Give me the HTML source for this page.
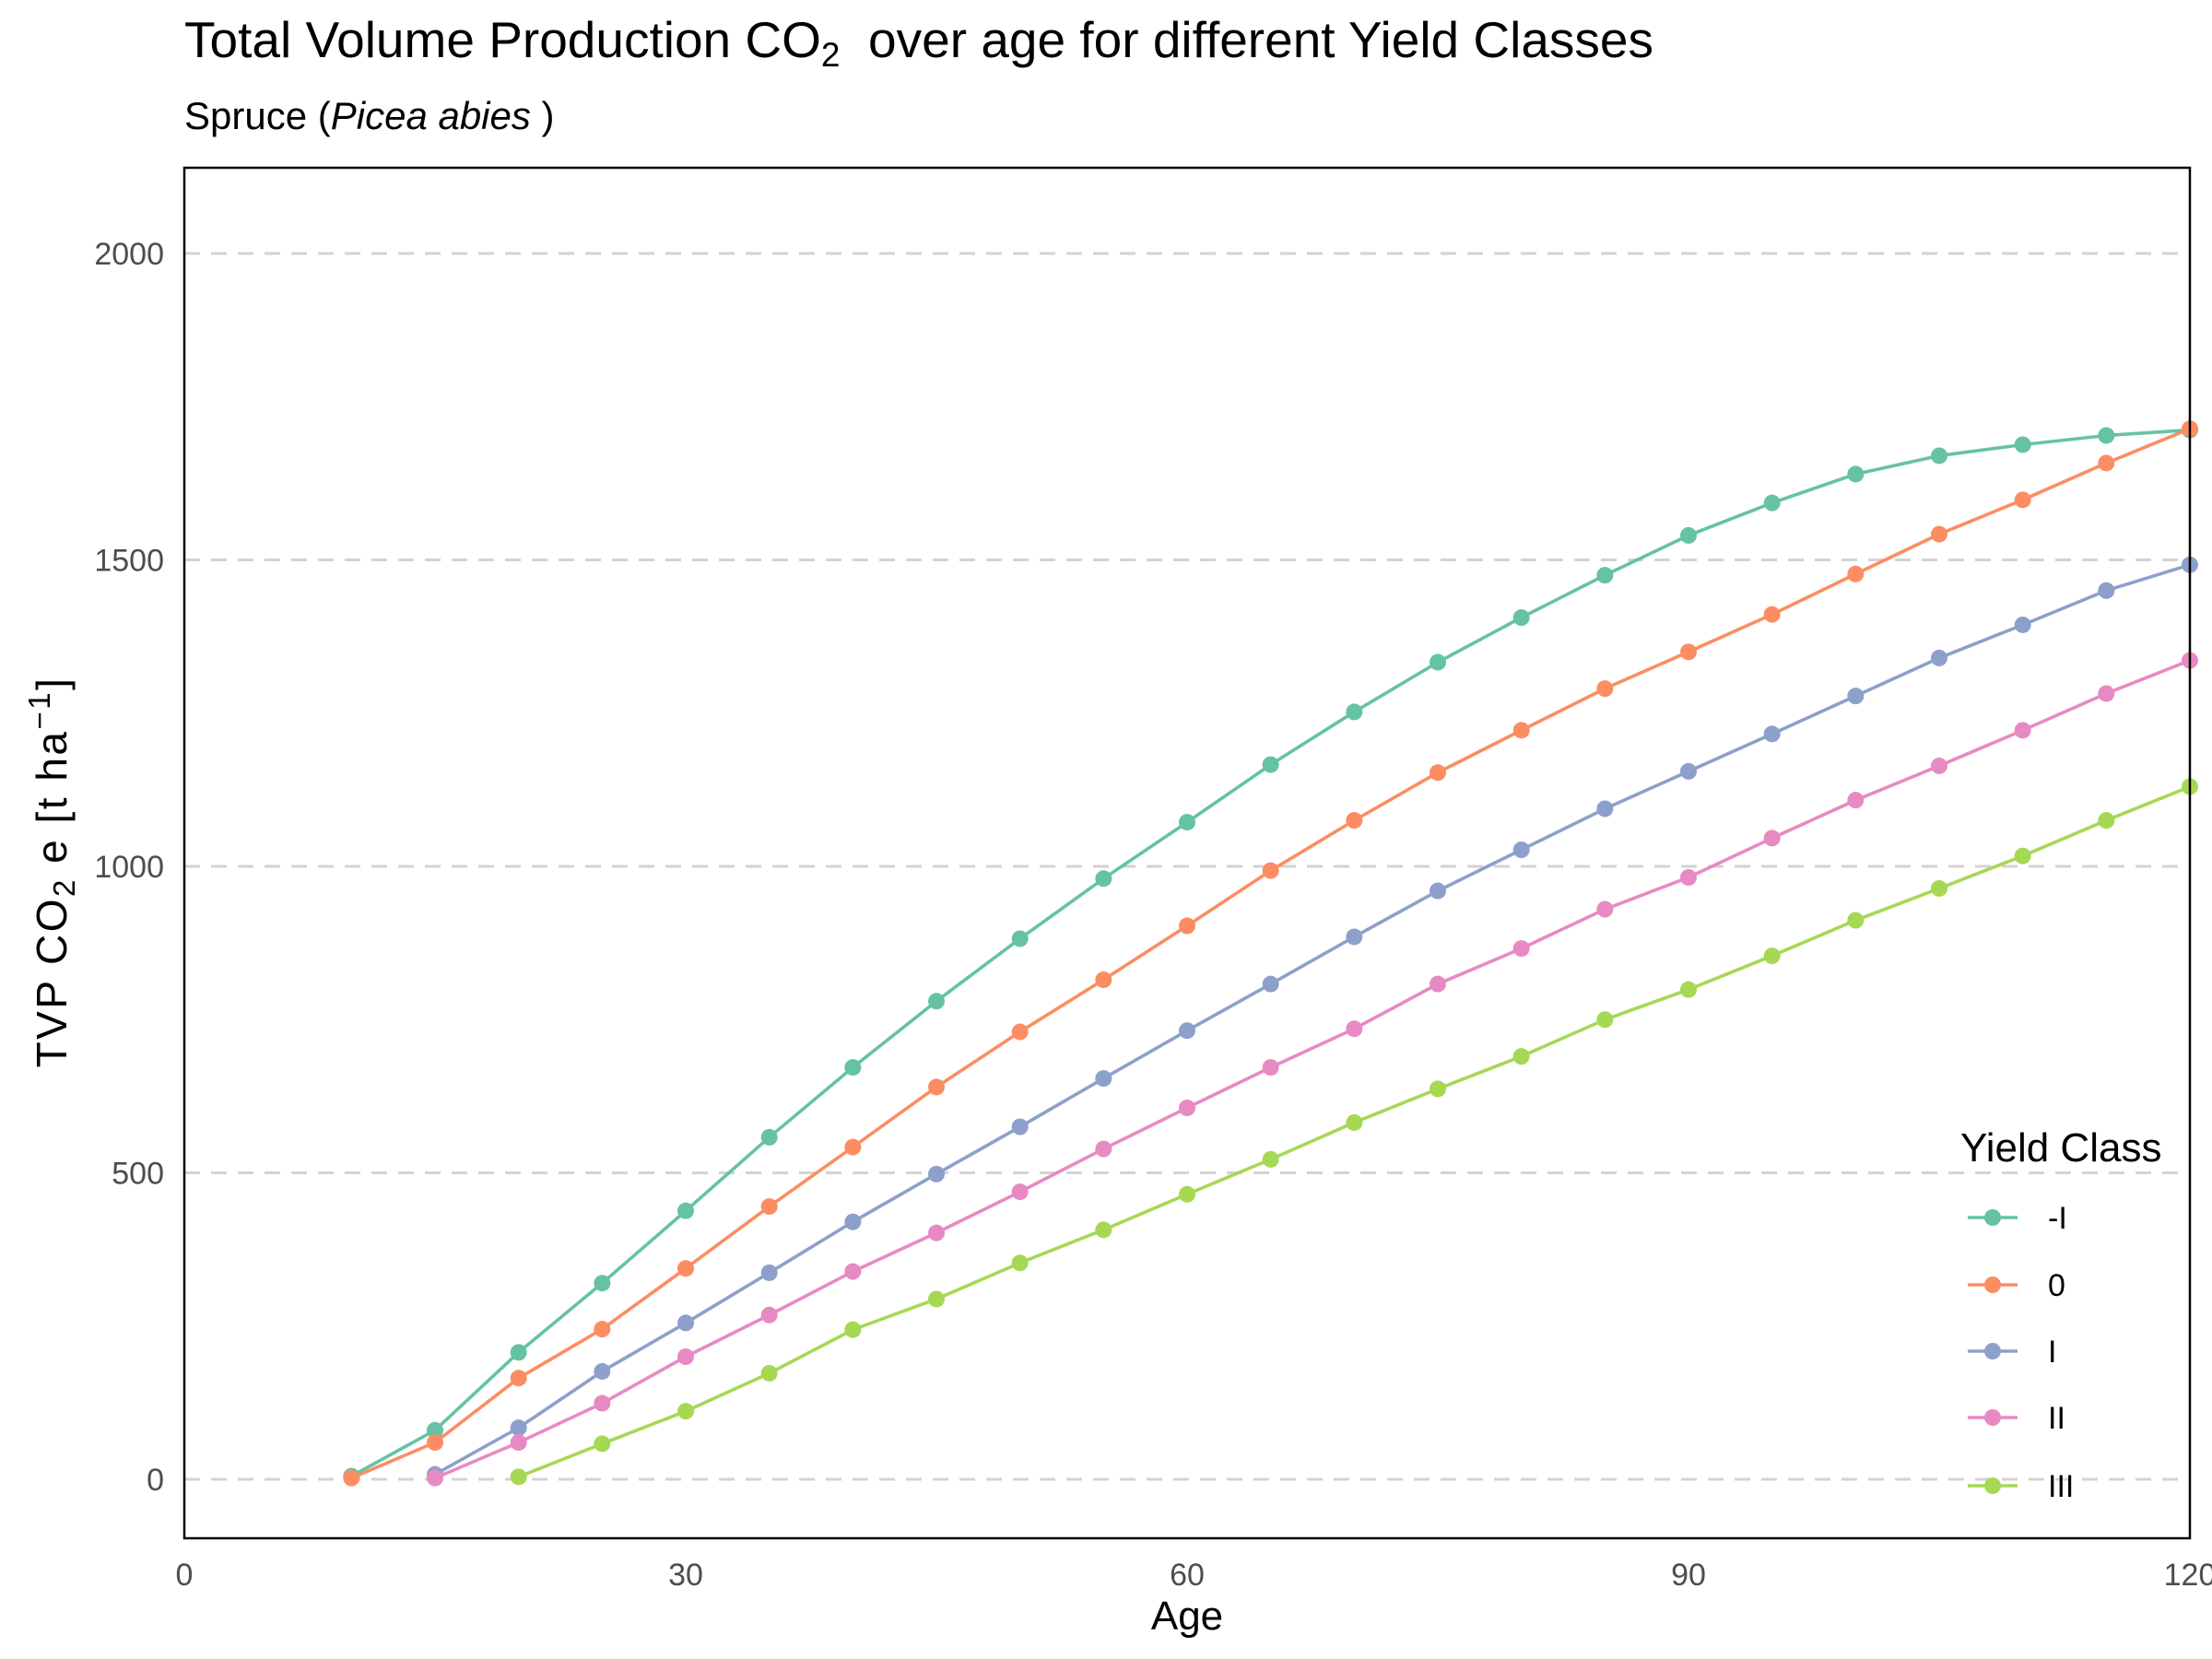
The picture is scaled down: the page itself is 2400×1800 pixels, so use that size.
<!DOCTYPE html>
<html><head><meta charset="utf-8"><style>
html,body{margin:0;padding:0;background:#fff}
svg{display:block;font-family:"Liberation Sans",Arial,sans-serif}
</style></head><body>
<svg id="chart" width="2400" height="1800" viewBox="0 0 2400 1800">
<text x="200" y="62" font-size="55" fill="#000" xml:space="preserve">Total Volume Production CO<tspan font-size="37" dy="10">2</tspan><tspan dy="-10">  over age for different Yield Classes</tspan></text>
<text x="200" y="140" font-size="42" fill="#000" xml:space="preserve">Spruce (<tspan font-style="italic">Picea abies </tspan>)</text>
<g id="grid"></g>
<g id="series"></g>
<rect x="200" y="182" width="2176" height="1487" fill="none" stroke="#000" stroke-width="2.5"/>
<g id="axes"></g>
<text transform="translate(72,946) rotate(-90)" text-anchor="middle" font-size="46" letter-spacing="2.5" fill="#000">TVP CO<tspan font-size="33" dy="9">2</tspan><tspan dy="-9"> e [t ha</tspan><tspan font-size="33" dy="-18">−1</tspan><tspan dy="18">]</tspan></text>
<text x="1288" y="1768" text-anchor="middle" font-size="44" fill="#000">Age</text>
<g id="legend"></g>
</svg>
<script>
const ages = [10,15,20,25,30,35,40,45,50,55,60,65,70,75,80,85,90,95,100,105,110,115,120];
const classNames = ["-I","0","I","II","III"];
const seriesMinusI = [5,80,207,320,438,558,672,780,882,980,1072,1166,1252,1333,1406,1475,1540,1593,1640,1670,1688,1703,1712];
const series0 = [2,60,165,245,344,445,542,640,730,815,903,993,1075,1153,1222,1290,1350,1411,1477,1542,1598,1658,1714];
const seriesI = [null,8,84,176,255,337,420,498,575,654,732,808,885,960,1027,1094,1155,1216,1278,1340,1394,1450,1492];
const seriesII = [null,2,60,124,200,268,339,402,469,539,606,672,735,808,866,930,982,1046,1108,1164,1222,1282,1336];
const seriesIII = [null,null,4,58,111,173,244,294,353,407,465,522,582,637,690,750,799,854,912,964,1017,1075,1130];
const xTicks = [0,30,60,90,120];
const yTicks = [0,500,1000,1500,2000];
const colors = ["#66c2a5","#fc8d62","#8da0cb","#e78ac3","#a6d854"];
const allSeries = [seriesMinusI,series0,seriesI,seriesII,seriesIII];

const NS="http://www.w3.org/2000/svg";
const xS = v => 200 + v*(2176/120);
const yS = v => 1605 - v*0.665;
function mk(tag, attrs, parent){const e=document.createElementNS(NS,tag);for(const k in attrs)e.setAttribute(k,attrs[k]);parent.appendChild(e);return e;}
const grid=document.getElementById('grid'), axes=document.getElementById('axes'), ser=document.getElementById('series'), leg=document.getElementById('legend');

yTicks.forEach(t=>{
  const l=mk('line',{x1:200,x2:2376,y1:yS(t),y2:yS(t),stroke:'#d3d3d3','stroke-width':3,'stroke-dasharray':'17 12'},grid);
  
  
  const tx=mk('text',{x:178,y:yS(t)+12,'text-anchor':'end','font-size':34,fill:'#4d4d4d'},axes);
  tx.textContent=t;
  
  
});
xTicks.forEach(t=>{
  const tx=mk('text',{x:xS(t),y:1720,'text-anchor':'middle','font-size':34,fill:'#4d4d4d'},axes);
  tx.textContent=t;
  
  
});
allSeries.forEach((s,i)=>{
  const g=mk('g',{},ser);
  
  
  const pts=[];
  s.forEach((v,j)=>{if(v!==null)pts.push(xS(ages[j])+','+yS(v));});
  const pl=mk('polyline',{points:pts.join(' '),fill:'none',stroke:colors[i],'stroke-width':3.6},g);
  
  
  s.forEach((v,j)=>{if(v===null)return;
    const c=mk('circle',{cx:xS(ages[j]),cy:yS(v),r:9,fill:colors[i]},g);
    
    
  });
});
const lt=mk('text',{x:2127,y:1260,'font-size':44,fill:'#000'},leg);
lt.textContent='Yield Class';


const legY=[1321,1394,1466,1538,1612];
classNames.forEach((n,i)=>{
  const g=mk('g',{},leg);
  
  
  mk('line',{x1:2135,x2:2189,y1:legY[i],y2:legY[i],stroke:colors[i],'stroke-width':3.6},g);
  mk('circle',{cx:2162,cy:legY[i],r:9,fill:colors[i]},g);
  const t=mk('text',{x:2222,y:legY[i]+12,'font-size':34,fill:'#000'},g);
  t.textContent=n;
});
</script>
</body></html>
